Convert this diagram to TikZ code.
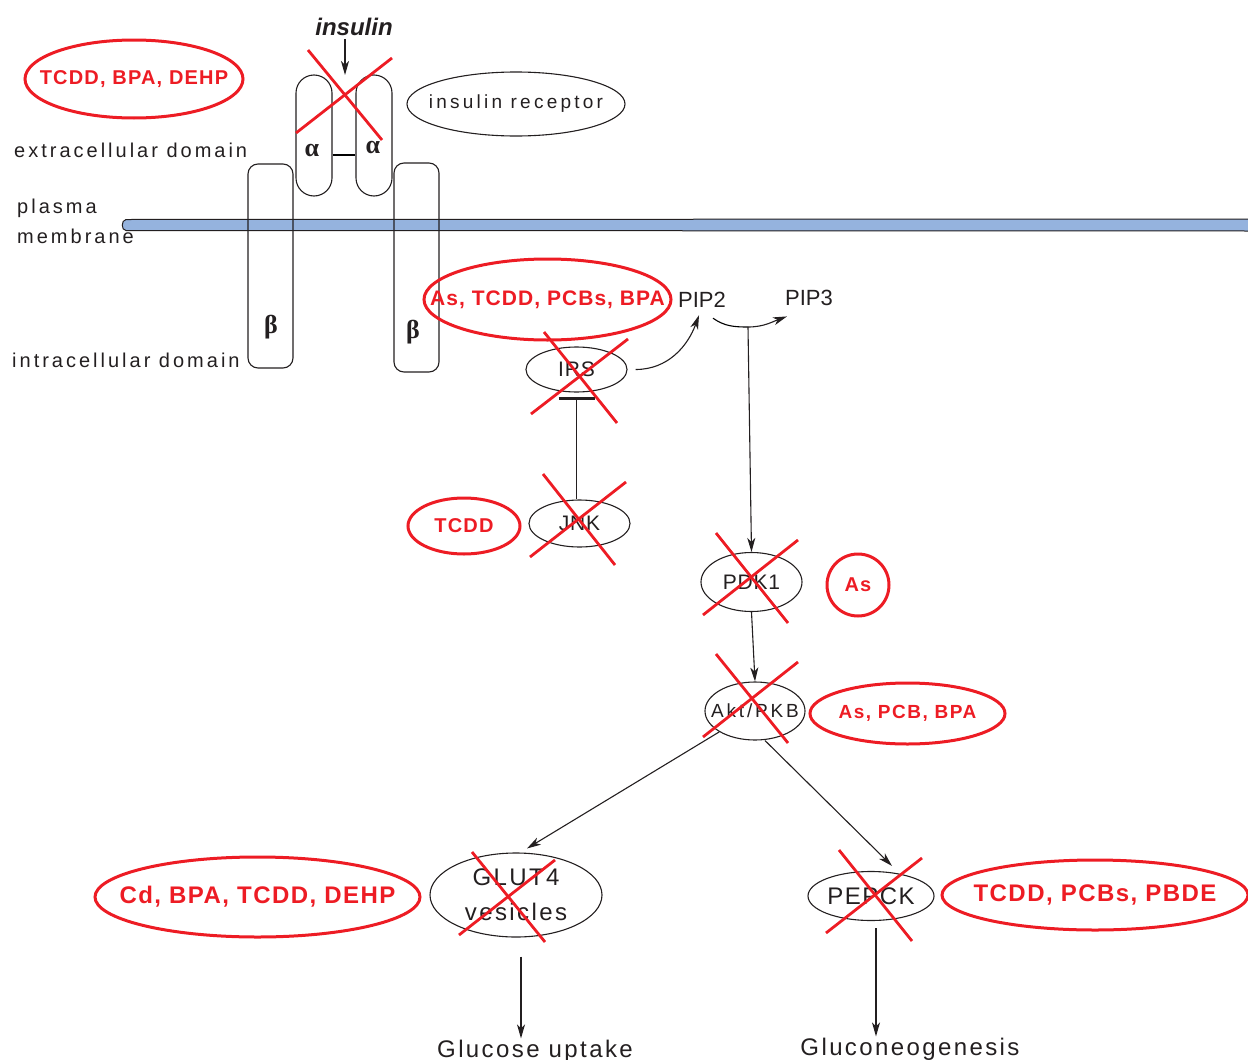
\documentclass[tikz,border=0pt]{standalone}
\usepackage{fontspec}
\setmainfont{Liberation Sans}
\newfontfamily\greekfont{Liberation Serif}
\usepackage{xcolor}
\usetikzlibrary{shapes.geometric, arrows.meta, positioning}
\definecolor{toxred}{RGB}{237,28,36}
\definecolor{membraneblue}{RGB}{149,179,222}
\definecolor{inkgray}{RGB}{35,31,32}
\newcommand{\spaced}[1]{\addfontfeatures{LetterSpace=#1}}
\newcommand{\nowide}[1]{\makebox[0pt]{#1}}

\begin{document}
\begin{tikzpicture}[
    x=1pt, y=-1pt,
    every node/.style={text=inkgray},
    lbl/.style={font=\fontsize{20}{24}\selectfont\spaced{15}, inner sep=1pt},
    biglbl/.style={font=\fontsize{24}{28}\selectfont\spaced{10}, inner sep=1pt},
    mol/.style={ellipse, draw=inkgray, line width=1.1pt, inner sep=0pt,
                font=\fontsize{21}{25}\selectfont\spaced{4}},
    tox/.style={ellipse, draw=toxred, line width=3pt, inner sep=0pt,
                text=toxred, font=\fontsize{20}{24}\selectfont\bfseries\spaced{6}},
    chain/.style={draw=inkgray, line width=1.1pt, inner sep=0pt},
    achain/.style={chain, rounded corners=18pt, minimum width=36pt,
                   minimum height=121pt},
    bchain/.style={chain, rounded corners=10pt, minimum width=45pt},
    greek/.style={font=\fontsize{26}{30}\greekfont\bfseries, inner sep=0pt},
    cross/.style={draw=toxred, line width=2.8pt},
    arrow/.style={-{Stealth[length=14pt, width=8pt, inset=4pt]},
                  line width=1.1pt, draw=inkgray},
    inhibit/.style={-{Bar[width=36pt, line width=3.5pt]}, line width=1.1pt,
                    draw=inkgray},
]
\useasboundingbox (0,0) rectangle (1248,1060);

% ── Membrane ───────────────────────────────────────────────────────────
\draw[fill=membraneblue, draw=inkgray, line width=1pt]
      (1250,219) -- (126,219.5) .. controls (121,220) and (121,230.5)
      .. (126,230.5) -- (1250,231);

% ── Receptor ───────────────────────────────────────────────────────────
\node[font=\fontsize{24}{28}\selectfont\bfseries\itshape, anchor=base]
      (insulin) at (354,35) {insulin};
\coordinate (bind) at (345,75);

\node[achain] (alpha1) at (314,135.5) {};
\node[achain] (alpha2) at (374,135.5) {};
\node[bchain, minimum height=204pt] (beta1) at (270.5,266) {};
\node[bchain, minimum height=209pt] (beta2) at (416.5,267.5) {};

\node[greek] (alphaL1) at (312,150) {α};
\node[greek] (alphaL2) at (373,147) {α};
\node[greek] (betaL1)  at (271,327) {β};
\node[greek] (betaL2)  at (413,332) {β};

\node[mol, minimum width=218pt, minimum height=64pt,
      font=\fontsize{19}{23}\selectfont\spaced{17}]
      (receptor) at (516,104) {\nowide{insulin receptor}};

% ── Side labels ────────────────────────────────────────────────────────
\node[lbl, anchor=base west] (extra) at (13,157) {extracellular domain};
\node[lbl, anchor=base west] (plasma) at (16,213) {plasma};
\node[lbl, anchor=base west] (membr) at (16,243) {membrane};
\node[lbl, anchor=base west] (intra) at (11,367) {intracellular domain};

% ── Signalling ─────────────────────────────────────────────────────────
\node[font=\fontsize{22}{26}\selectfont, anchor=base, inner sep=1pt]
      (pip2) at (702,307) {PIP2};
\node[font=\fontsize{22}{26}\selectfont, anchor=base, inner sep=1pt]
      (pip3) at (809,305) {PIP3};
\coordinate (fork) at (748,327);

\node[mol, minimum width=101pt, minimum height=45pt]
      (irs) at (576.5,369.5) {\nowide{IRS}};
\node[mol, minimum width=101pt, minimum height=47pt]
      (jnk) at (579.5,523.5) {\nowide{JNK}};
\node[mol, minimum width=101pt, minimum height=59pt]
      (pdk) at (751.5,582) {\nowide{PDK1}};
\node[mol, minimum width=100pt, minimum height=58pt,
      font=\fontsize{19}{23}\selectfont\spaced{15}]
      (akt) at (755,711) {\nowide{Akt/PKB}};
\node[mol, minimum width=172pt, minimum height=84pt, align=center,
      font=\fontsize{24}{35}\selectfont\spaced{10}]
      (glut) at (516,895) {GLUT4\\vesicles};
\node[mol, minimum width=126pt, minimum height=49pt,
      font=\fontsize{24}{28}\selectfont\spaced{6}]
      (pepck) at (871,896) {\nowide{PEPCK}};

\node[biglbl, anchor=base] (uptake) at (535,1057) {Glucose uptake};
\node[biglbl, anchor=base] (gluco) at (910,1055) {Gluconeogenesis};

% ── Toxicants ──────────────────────────────────────────────────────────
\node[tox, minimum width=218pt, minimum height=78pt]
      (toxA) at (134,79) {\nowide{TCDD, BPA, DEHP}};
\node[tox, minimum width=247pt, minimum height=81pt, font=\fontsize{21}{25}\selectfont\bfseries\spaced{5}]
      (toxB) at (547.5,299.5) {\nowide{As, TCDD, PCBs, BPA}};
\node[tox, minimum width=112pt, minimum height=56pt]
      (toxC) at (464,526) {\nowide{TCDD}};
\node[tox, minimum width=62pt, minimum height=62pt]
      (toxD) at (858,585) {\nowide{As}};
\node[tox, minimum width=195pt, minimum height=61pt, font=\fontsize{19}{23}\selectfont\bfseries\spaced{8}]
      (toxE) at (907.5,713.5) {\nowide{As, PCB, BPA}};
\node[tox, minimum width=325pt, minimum height=80pt, font=\fontsize{24}{28}\selectfont\bfseries\spaced{6}]
      (toxF) at (257.5,897) {\nowide{Cd, BPA, TCDD, DEHP}};
\node[tox, minimum width=306pt, minimum height=70pt, font=\fontsize{24}{28}\selectfont\bfseries\spaced{6}]
      (toxG) at (1095,895) {\nowide{TCDD, PCBs, PBDE}};

% ── Arrows ─────────────────────────────────────────────────────────────
\draw[arrow] (insulin.south -| bind) -- (bind);
\draw[line width=1.1pt] ([yshift=-19.5pt]alpha1.east) -- ([yshift=-19.5pt]alpha2.west);
\draw[arrow] ([xshift=8pt]irs.east) to[out=0, in=250] ([shift={(-3,7)}]pip2.south);
\draw[line width=1.1pt] ([shift={(11,10)}]pip2.south) to[out=-35, in=180] (fork);
\draw[arrow] (fork) to[out=0, in=200] ([shift={(-22,10)}]pip3.south);
\draw[arrow] (fork) -- (pdk.north);
\draw[inhibit] (jnk.north -| irs.south) -- ([yshift=-4pt]irs.south);
\draw[arrow] (pdk.south) -- (akt.north);
\draw[arrow] (akt.south west) -- ([shift={(11,-4)}]glut.north);
\draw[arrow] ([xshift=10pt]akt.south) -- ([shift={(21,-5)}]pepck.north);
\draw[arrow] ([shift={(5,19)}]glut.south) -- ([shift={(5,0)}]glut.south |- uptake.north);
\draw[arrow] ([shift={(5,7)}]pepck.south) -- ([shift={(5,0)}]pepck.south |- gluco.north);

% ── Blocked steps ──────────────────────────────────────────────────────
\draw[cross] (308,50) -- (382,140);  \draw[cross] (392,58) -- (296,133);
\draw[cross] (544,332) -- (617,423); \draw[cross] (628,339) -- (531,414);
\draw[cross] (543,474) -- (615,565); \draw[cross] (626,482) -- (530,557);
\draw[cross] (716,533) -- (788,623); \draw[cross] (798,540) -- (703,615);
\draw[cross] (716,654) -- (788,743); \draw[cross] (798,662) -- (703,737);
\draw[cross] (472,852) -- (545,942); \draw[cross] (555,860) -- (459,935);
\draw[cross] (839,850) -- (912,941); \draw[cross] (922,858) -- (826,933);

\end{tikzpicture}
\end{document}
